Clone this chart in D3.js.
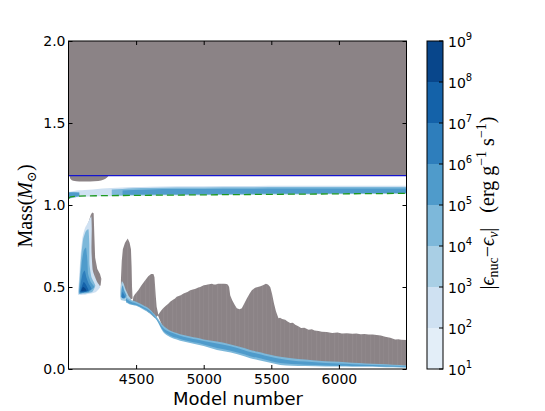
<!DOCTYPE html>
<html><head><meta charset="utf-8">
<script src="https://cdn.jsdelivr.net/npm/d3@7"></script>
<style>body{margin:0;background:#fff}svg{display:block}</style>
</head><body>
<svg id="chart" width="545" height="411"></svg>
<script>
// ---------------- data ----------------
const xDomain = [4000, 6500];
const yDomain = [0, 2];
const xTicks = [4500, 5000, 5500, 6000];
const yTicks = [0.0, 0.5, 1.0, 1.5, 2.0];
const cbExponents = [1, 2, 3, 4, 5, 6, 7, 8, 9];
const levelColors = ["#e3eef8", "#cfe1f2", "#a9cfe5", "#7db8da", "#4f9bcb", "#2e7ebc", "#1462a9", "#08468b"];
const convColor = "#8b8386";

const starMass = 1.179;       // blue line (surface)
const envelopeTop = 2.0;

// convective blob just below the surface
const blobPts = [[4008,1.179],[4014,1.160],[4035,1.148],[4080,1.144],[4160,1.143],[4220,1.146],[4262,1.155],[4285,1.168],[4296,1.179]];

// H-burning shell near 1.05-1.12
const hModels   = [4000, 4040, 4080, 4120, 4180, 4250, 4320, 4400, 4480, 4600, 4800, 5000, 5300, 5600, 6000, 6500];
const hLightTop = [1.080,1.086,1.090,1.092,1.095,1.100,1.104,1.107,1.110,1.112,1.114,1.115,1.116,1.117,1.118,1.118];
const hLightBot = [1.036,1.044,1.049,1.051,1.052,1.053,1.054,1.055,1.056,1.057,1.058,1.060,1.062,1.064,1.066,1.068];
const hMidTop   = [1.078,1.080,1.080,null,null,null,1.094,1.098,1.102,1.104,1.106,1.107,1.108,1.109,1.110,1.110];
const hMidBot   = [1.040,1.046,1.052,null,null,null,1.057,1.058,1.059,1.060,1.061,1.062,1.064,1.066,1.068,1.070];
const hCoreTop  = [1.074,1.076,1.072,null,null,null,null,1.088,1.092,1.095,1.097,1.098,1.099,1.100,1.100,1.100];
const hCoreBot  = [1.044,1.050,1.056,null,null,null,null,1.062,1.063,1.064,1.065,1.066,1.068,1.070,1.072,1.073];

// dashed green line
const greenModels = [4000, 4015, 4050, 4150, 4400, 5000, 5500, 6000, 6500];
const greenMass   = [1.040, 1.050, 1.053, 1.056, 1.058, 1.062, 1.065, 1.068, 1.071];

// convective pockets (gray) in the core
const peak1Pts = [[4079,0.46],[4090,0.60],[4100,0.70],[4125,0.85],[4150,0.90],[4165,0.94],[4175,0.955],[4186,0.95],[4191,0.82],[4197,0.68],[4213,0.61],[4233,0.58],[4243,0.55],[4238,0.51],[4205,0.48],[4150,0.468],[4090,0.458]];
const peak2Pts = [[4386,0.44],[4388,0.55],[4394,0.66],[4402,0.73],[4418,0.77],[4438,0.795],[4452,0.77],[4462,0.73],[4467,0.62],[4470,0.50],[4474,0.43],[4440,0.415],[4405,0.42]];
const peak3Pts = [[4474,0.41],[4480,0.44],[4490,0.455],[4516,0.48],[4540,0.51],[4566,0.54],[4590,0.565],[4611,0.58],[4628,0.58],[4636,0.56],[4645,0.45],[4652,0.38],[4665,0.33],[4640,0.31],[4600,0.34],[4550,0.37],[4500,0.39]];

const mainModels = [4660,4668,4675,4689,4700,4720,4740,4752,4770,4788,4800,4815,4830,4851,4865,4880,4900,4920,4940,4960,4974,5000,5015,5030,5061,5075,5090,5105,5120,5150,5172,5180,5188,5196,5210,5230,5245,5265,5282,5300,5319,5340,5356,5380,5400,5420,5442,5460,5475,5492,5505,5520,5535,5553,5565,5580,5603,5620,5640,5660,5677,5700,5720,5745,5776,5800,5820,5850,5874,5910,5950,5990,6022,6060,6100,6130,6160,6190,6219,6250,6280,6310,6342,6380,6416,6440,6460,6500];
const mainTop    = [0.33,0.335,0.345,0.36,0.37,0.385,0.40,0.41,0.42,0.43,0.44,0.445,0.45,0.46,0.465,0.47,0.48,0.485,0.49,0.497,0.50,0.51,0.512,0.515,0.52,0.516,0.515,0.52,0.52,0.52,0.518,0.512,0.50,0.45,0.42,0.39,0.37,0.365,0.37,0.40,0.43,0.46,0.48,0.495,0.50,0.505,0.512,0.52,0.515,0.50,0.46,0.40,0.35,0.31,0.312,0.305,0.30,0.29,0.28,0.282,0.27,0.26,0.25,0.252,0.24,0.243,0.235,0.232,0.227,0.225,0.22,0.222,0.217,0.218,0.215,0.216,0.212,0.213,0.21,0.211,0.207,0.205,0.197,0.19,0.18,0.182,0.178,0.177];

// descending burning shell (blue)
const shellModels  = [4425,4450,4500,4550,4600,4650,4700,4750,4800,4851,4900,4950,5000,5098,5200,5300,5344,5400,5450,5500,5566,5650,5750,5900,6000,6100,6200,6300,6400,6500];
const shellTop     = [0.440,0.425,0.410,0.390,0.365,0.320,0.265,0.235,0.220,0.207,0.198,0.190,0.180,0.167,0.150,0.128,0.116,0.105,0.095,0.085,0.075,0.066,0.058,0.048,0.044,0.038,0.034,0.030,0.026,0.022];
const shellBot     = [0.405,0.395,0.385,0.365,0.340,0.300,0.225,0.195,0.180,0.167,0.158,0.150,0.140,0.116,0.100,0.078,0.065,0.055,0.045,0.036,0.024,0.020,0.018,0.016,0.015,0.014,0.013,0.012,0.010,0.008];
const shellCoreTop = [0.430,0.415,0.400,0.380,0.355,0.310,0.250,0.225,0.210,0.197,0.188,0.180,0.170,0.155,0.138,0.115,0.103,0.093,0.083,0.073,0.062,0.052,0.045,0.037,0.033,0.029,0.026,0.023,0.020,0.017];
const shellCoreBot = [0.415,0.400,0.390,0.370,0.345,0.305,0.235,0.205,0.190,0.177,0.168,0.160,0.150,0.128,0.112,0.090,0.078,0.068,0.058,0.048,0.036,0.030,0.026,0.022,0.020,0.019,0.018,0.017,0.015,0.013];

// nested burning contours in the pockets (level index, points)
const peak1Burn = [
  [1, [[4070,0.458],[4078,0.55],[4088,0.68],[4103,0.80],[4122,0.86],[4148,0.90],[4168,0.93],[4172,0.86],[4170,0.72],[4180,0.60],[4212,0.53],[4235,0.50],[4200,0.468],[4130,0.455],[4085,0.452]]],
  [3, [[4076,0.462],[4084,0.57],[4094,0.69],[4108,0.79],[4128,0.84],[4148,0.85],[4154,0.76],[4155,0.64],[4170,0.56],[4198,0.51],[4175,0.47],[4110,0.46]]],
  [4, [[4080,0.465],[4088,0.56],[4098,0.65],[4112,0.72],[4130,0.74],[4140,0.66],[4145,0.58],[4165,0.53],[4190,0.50],[4150,0.47],[4100,0.465]]],
  [5, [[4084,0.468],[4092,0.53],[4104,0.58],[4120,0.60],[4132,0.56],[4150,0.52],[4170,0.49],[4140,0.472]]],
  [6, [[4088,0.47],[4098,0.50],[4112,0.53],[4128,0.515],[4148,0.48],[4120,0.47]]],
  [7, [[4094,0.475],[4106,0.50],[4120,0.495],[4132,0.478]]]
];
const peak2Burn = [
  [2, [[4382,0.45],[4386,0.50],[4395,0.535],[4408,0.52],[4425,0.48],[4445,0.445],[4462,0.425],[4420,0.415],[4388,0.42]]],
  [4, [[4389,0.44],[4393,0.49],[4401,0.51],[4412,0.48],[4430,0.445],[4410,0.428]]],
  [5, [[4394,0.44],[4400,0.47],[4410,0.455],[4420,0.437],[4400,0.432]]]
];

// ---------------- layout ----------------
const svg = d3.select("#chart");
const L = 68.5, R = 406.5, T = 41, B = 369;
const x = d3.scaleLinear().domain(xDomain).range([L, R]);
const y = d3.scaleLinear().domain(yDomain).range([B, T]);

const defs = svg.append("defs");
defs.append("clipPath").attr("id", "clip")
  .append("rect").attr("x", L).attr("y", T).attr("width", R - L).attr("height", B - T);
const pat = defs.append("pattern").attr("id", "streaks").attr("patternUnits", "userSpaceOnUse")
  .attr("width", 9).attr("height", 40);
pat.append("rect").attr("width", 9).attr("height", 40).attr("fill", convColor);
pat.append("rect").attr("x", 1.5).attr("width", 0.6).attr("height", 40).attr("fill", "#979092");
pat.append("rect").attr("x", 5.5).attr("width", 0.5).attr("height", 40).attr("fill", "#938c8e");
const g = svg.append("g").attr("clip-path", "url(#clip)");

const poly = d3.line().x(d => x(d[0])).y(d => y(d[1]));

// envelope convection
g.append("path").attr("fill", convColor)
  .attr("d", poly([[xDomain[0], starMass], [xDomain[1], starMass], [xDomain[1], envelopeTop], [xDomain[0], envelopeTop]]) + "Z");
g.append("path").attr("fill", convColor)
  .attr("d", d3.line().x(d => x(d[0])).y(d => y(d[1])).curve(d3.curveMonotoneX)(blobPts) + "Z");

// H shell bands
function band(models, top, bot, color) {
  const data = models.map((m, i) => ({m, t: top[i], b: bot[i]}));
  const area = d3.area().defined(d => d.t != null && d.b != null)
    .x(d => x(d.m)).y0(d => y(d.b)).y1(d => y(d.t)).curve(d3.curveMonotoneX);
  g.append("path").attr("fill", color).attr("d", area(data));
}
band(hModels, hLightTop, hLightBot, levelColors[1]);
band(hModels, hMidTop, hMidBot, levelColors[3]);
band(hModels, hCoreTop, hCoreBot, levelColors[4]);

// convective pockets
[peak1Pts, peak2Pts, peak3Pts].forEach(p => g.append("path").attr("fill", "url(#streaks)").attr("d", poly(p) + "Z"));
const mainBotPts = shellModels.map((m, i) => [m, shellCoreTop[i]]).filter(d => d[0] >= mainModels[0]);
const mainPts = mainModels.map((m, i) => [m, mainTop[i]]).concat(mainBotPts.slice().reverse());
g.append("path").attr("fill", "url(#streaks)").attr("d", poly(mainPts) + "Z");

// burning in pockets
peak1Burn.concat(peak2Burn).forEach(([lvl, pts]) =>
  g.append("path").attr("fill", levelColors[lvl]).attr("d", d3.line().x(d => x(d[0])).y(d => y(d[1])).curve(d3.curveCardinalClosed.tension(0.5))(pts)));

// descending shell
band(shellModels, shellTop, shellBot, levelColors[3]);
band(shellModels, shellCoreTop, shellCoreBot, levelColors[4]);

// surface line and dashed line
g.append("path").attr("fill", "none").attr("stroke", "#1515d0").attr("stroke-width", 1.3)
  .attr("d", poly([[xDomain[0], starMass], [xDomain[1], starMass]]));
g.append("path").attr("fill", "none").attr("stroke", "#1f9a1f").attr("stroke-width", 1.3)
  .attr("stroke-dasharray", "7,4")
  .attr("d", poly(greenModels.map((m, i) => [m, greenMass[i]])));

// axes
const font = "'DejaVu Sans', sans-serif";
const axB = svg.append("g").attr("transform", `translate(0,${B})`)
  .call(d3.axisBottom(x).tickValues(xTicks).tickFormat(d3.format("d")).tickSize(-4).tickPadding(5));
const axT = svg.append("g").attr("transform", `translate(0,${T})`)
  .call(d3.axisTop(x).tickValues(xTicks).tickFormat("").tickSize(-4));
const axL = svg.append("g").attr("transform", `translate(${L},0)`)
  .call(d3.axisLeft(y).tickValues(yTicks).tickFormat(d3.format(".1f")).tickSize(-4).tickPadding(3));
const axR = svg.append("g").attr("transform", `translate(${R},0)`)
  .call(d3.axisRight(y).tickValues(yTicks).tickFormat("").tickSize(-4));
[axB, axT, axL, axR].forEach(a => {
  a.select(".domain").remove();
  a.selectAll("text").attr("font-family", font).attr("font-size", 14).attr("fill", "#000");
  a.selectAll("line").attr("stroke", "#000");
});
svg.append("rect").attr("x", L).attr("y", T).attr("width", R - L).attr("height", B - T)
  .attr("fill", "none").attr("stroke", "#000").attr("stroke-width", 1);

svg.append("text").attr("x", 238).attr("y", 405).attr("text-anchor", "middle")
  .attr("font-family", font).attr("font-size", 18).text("Model number");

function rich(sel, parts) {
  parts.forEach(p => {
    const t = sel.append("tspan").text(p.t);
    if (p.i) t.attr("font-style", "italic");
    if (p.s) t.attr("font-size", p.s);
    if (p.dy) t.attr("dy", p.dy);
  });
}
const serif = "'Liberation Serif', 'DejaVu Serif', serif";
const yl = svg.append("text").attr("transform", "translate(32,206) rotate(-90)")
  .attr("text-anchor", "middle").attr("font-family", serif).attr("font-size", 20);
rich(yl, [{t: "Mass("}, {t: "M", i: 1}, {t: "\u2299", s: 13, dy: 4}, {t: ")", dy: -4}]);

// colorbar
const cbX = 427, cbW = 16;
const cy = d3.scaleLinear().domain([cbExponents[0], cbExponents[cbExponents.length - 1]]).range([B, T]);
levelColors.forEach((c, i) => {
  svg.append("rect").attr("x", cbX).attr("width", cbW)
    .attr("y", cy(cbExponents[i + 1])).attr("height", cy(cbExponents[i]) - cy(cbExponents[i + 1]))
    .attr("fill", c);
});
svg.append("rect").attr("x", cbX).attr("y", T).attr("width", cbW).attr("height", B - T)
  .attr("fill", "none").attr("stroke", "#000");
cbExponents.forEach(e => {
  svg.append("line").attr("x1", cbX + cbW - 4).attr("x2", cbX + cbW).attr("y1", cy(e)).attr("y2", cy(e)).attr("stroke", "#000");
  const t = svg.append("text").attr("x", cbX + cbW + 5).attr("y", cy(e) + 6)
    .attr("font-family", font).attr("font-size", 14);
  t.append("tspan").text("10");
  t.append("tspan").attr("font-size", 10).attr("dy", -7).text(e);
});
const cl = svg.append("text").attr("transform", "translate(494,203) rotate(-90)")
  .attr("text-anchor", "middle").attr("font-family", serif).attr("font-size", 20);
rich(cl, [{t: "|"}, {t: "\u03f5", i: 1}, {t: "nuc", s: 14, dy: 4}, {t: "\u2212", dy: -4}, {t: "\u03f5", i: 1},
  {t: "\u03bd", i: 1, s: 14, dy: 4}, {t: "|", dy: -4}, {t: "\u00a0\u00a0\u00a0(erg g"}, {t: "\u22121", s: 14, dy: -8},
  {t: "\u00a0s", dy: 8}, {t: "\u22121", s: 14, dy: -8}, {t: ")", dy: 8}]);
</script>
</body></html>
